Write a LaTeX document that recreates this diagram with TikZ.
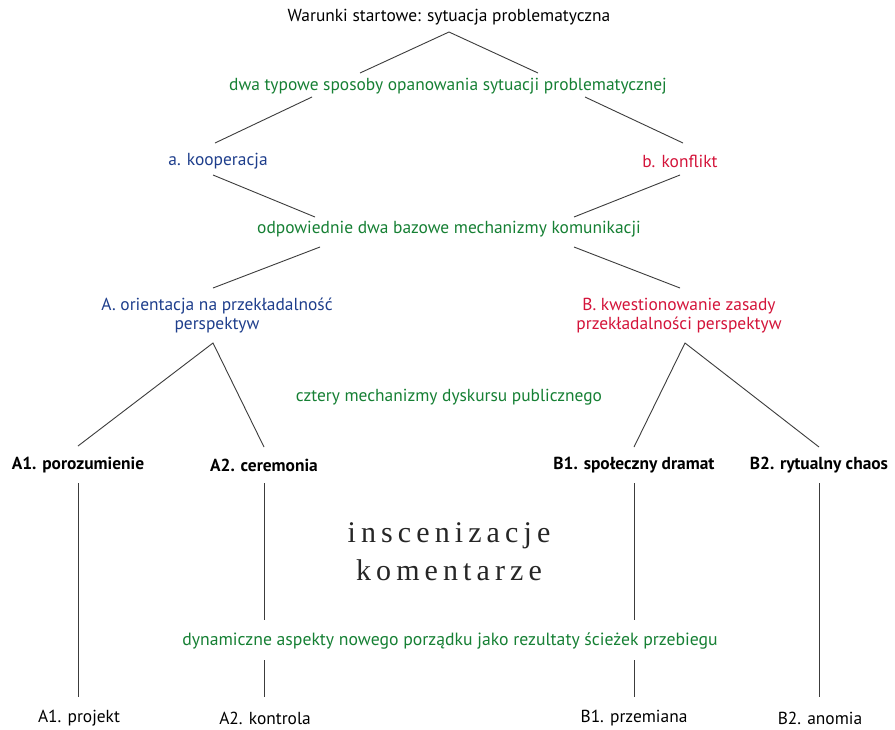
\documentclass[tikz,border=0pt]{standalone}
\usepackage{fontspec}
\setmainfont{PT Sans}
\newfontfamily\widserif[LetterSpace=17]{Liberation Serif}
\definecolor{mygreen}{RGB}{22,128,52}
\definecolor{myblue}{RGB}{30,62,140}
\definecolor{myred}{RGB}{212,20,58}
\definecolor{linegray}{RGB}{60,60,60}
\tikzset{
  lbl/.style={font=\fontsize{17.4}{19}\selectfont, inner sep=0pt, align=center, text=black},
  grn/.style={lbl, text=mygreen},
  blu/.style={lbl, text=myblue},
  rd/.style={lbl, text=myred},
  bld/.style={lbl, font=\fontsize{17.4}{19}\selectfont\bfseries},
  bot/.style={lbl},
  conn/.style={draw=linegray, line width=0.9pt}
}
\begin{document}
\begin{tikzpicture}[x=1pt,y=-1pt]
\useasboundingbox[fill=white] (0,0) rectangle (895,729);
% texts
\node[lbl] (title) at (449,17) {Warunki startowe: sytuacja problematyczna};
\node[grn] (g1) at (448,86) {dwa typowe sposoby opanowania sytuacji problematycznej};
\node[blu] (a) at (218,161) {a. kooperacja};
\node[rd] (b) at (680,161) {b. konflikt};
\node[grn] (g2) at (449,229) {odpowiednie dwa bazowe mechanizmy komunikacji};
\node[blu] (A) at (217,316) {A. orientacja na przekładalność\\perspektyw};
\node[rd] (B) at (679,316) {B. kwestionowanie zasady\\przekładalności perspektyw};
\node[grn] (g3) at (449,397) {cztery mechanizmy dyskursu publicznego};
\node[bld] (A1) at (78,465) {A1. porozumienie};
\node[bld] (A2) at (264,465) {A2. ceremonia};
\node[bld] (B1) at (634,465) {B1. społeczny dramat};
\node[bld] (B2) at (819,465) {B2. rytualny chaos};
\node[inner sep=0pt, align=center, font=\widserif\fontsize{30}{38}\selectfont, text=black!85] (ik) at (449,552) {inscenizacje\\komentarze};
\node[grn, font=\fontsize{17.7}{19}\selectfont] (g4) at (450,641) {dynamiczne aspekty nowego porządku jako rezultaty ścieżek przebiegu};
\node[bot] (p1) at (79,718) {A1. projekt};
\node[bot] (p2) at (265,718) {A2. kontrola};
\node[bot] (p3) at (634,718) {B1. przemiana};
\node[bot] (p4) at (820,718) {B2. anomia};
% connector end points
\coordinate (t0) at (449,32);
\coordinate (t1) at (360,73);
\coordinate (t2) at (538,73);
\coordinate (u1) at (312,97);
\coordinate (u2) at (585,97);
\coordinate (a0) at (213,175);
\coordinate (b0) at (680,175);
\coordinate (v1) at (315,217);
\coordinate (v2) at (574,217);
\coordinate (w1) at (320,247);
\coordinate (w2) at (574,247);
\coordinate (A0) at (213,343);
\coordinate (B0) at (685,343);
\coordinate (A1t) at (78,446);
\coordinate (A2t) at (264,447);
\coordinate (B1t) at (634,447);
\coordinate (B2t) at (819,447);
\coordinate (A1b) at (78,483);
\coordinate (A2b) at (264,483);
\coordinate (B1b) at (634,483);
\coordinate (B2b) at (819,483);
\coordinate (A2m) at (264,620);
\coordinate (B1m) at (634,620);
\coordinate (A2n) at (264,660);
\coordinate (B1n) at (634,660);
\coordinate (p1t) at (78,697);
\coordinate (p2t) at (264,697);
\coordinate (p3t) at (634,697);
\coordinate (p4t) at (819,697);
\coordinate (a1) at (215,143);
\coordinate (b1) at (683,143);
\coordinate (Ac) at (213,288);
\coordinate (Bc) at (680,288);
% connectors
\draw[conn] (t1) -- (t0) -- (t2);
\draw[conn] (u1) -- (a1);
\draw[conn] (u2) -- (b1);
\draw[conn] (a0) -- (v1);
\draw[conn] (b0) -- (v2);
\draw[conn] (w1) -- (Ac);
\draw[conn] (w2) -- (Bc);
\draw[conn] (A1t) -- (A0) -- (A2t);
\draw[conn] (B1t) -- (B0) -- (B2t);
\draw[conn] (A1b) -- (p1t);
\draw[conn] (A2b) -- (A2m);
\draw[conn] (A2n) -- (p2t);
\draw[conn] (B1b) -- (B1m);
\draw[conn] (B1n) -- (p3t);
\draw[conn] (B2b) -- (p4t);
\end{tikzpicture}
\end{document}
